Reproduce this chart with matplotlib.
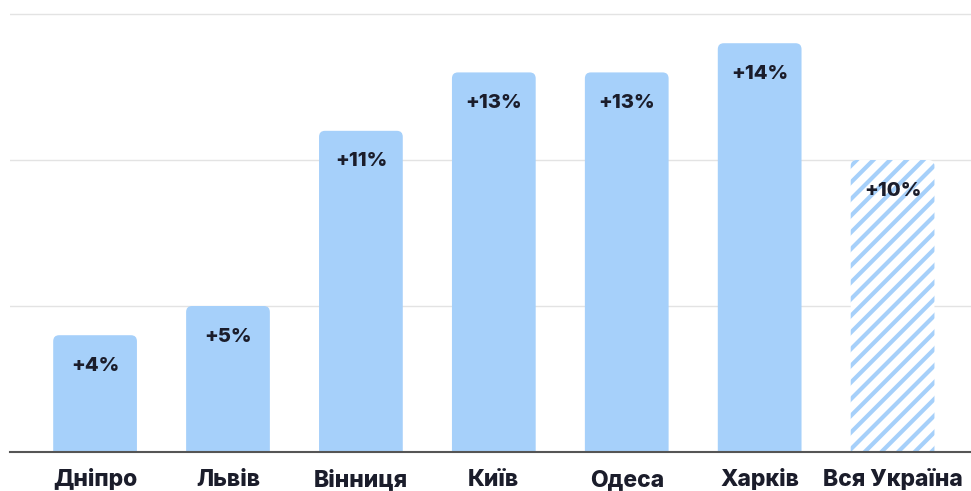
import matplotlib.pyplot as plt
from matplotlib.patches import FancyBboxPatch

# Dati
citta = ['Дніпро', 'Львів', 'Вінниця', 'Київ', 'Одеса', 'Харків', 'Вся Україна']
crescita = [4, 5, 11, 13, 13, 14, 10]
etichette = ['+4%', '+5%', '+11%', '+13%', '+13%', '+14%', '+10%']

plt.rcParams['font.family'] = ['Inter', 'DejaVu Sans']
plt.rcParams['hatch.linewidth'] = 3.0

colore = '#a6d0fa'
testo = '#1b1d2b'

fig = plt.figure(figsize=(9.71, 4.91), dpi=100)
ax = fig.add_axes([10 / 971, 39 / 491, 961 / 971, 452 / 491])

x = list(range(len(citta)))
barre = ax.bar(x, crescita, width=0.63, color='none', edgecolor='none')

# barre arrotondate in alto
for i, b in enumerate(barre):
    r = 0.045
    p = FancyBboxPatch((b.get_x(), -0.5), b.get_width(), b.get_height() + 0.5,
                       boxstyle=f'round,pad=0,rounding_size={r}',
                       mutation_aspect=4.6, linewidth=0, zorder=2)
    if i == len(citta) - 1:
        p.set_facecolor('white')
        p.set_edgecolor(colore)
        p.set_hatch('//')
    else:
        p.set_facecolor(colore)
    p.set_clip_on(True)
    ax.add_patch(p)
    ax.annotate(etichette[i], (b.get_x() + b.get_width() / 2, b.get_height()),
                xytext=(0, -22), textcoords='offset points', ha='center', va='center',
                fontsize=14.5, fontweight='heavy', color=testo, zorder=3)

ax.set_xlim(-0.64, 6.59)
ax.set_ylim(0, 15.48)
ax.set_yticks([5, 10, 15])
ax.yaxis.grid(True, color='#e3e3e3', linewidth=1)
ax.set_axisbelow(True)
ax.tick_params(axis='y', left=False, labelleft=False)
ax.tick_params(axis='x', length=0, pad=12)
ax.set_xticks(x)
ax.set_xticklabels(citta, fontsize=16.5, fontweight='heavy', color=testo)

for s in ['top', 'right', 'left']:
    ax.spines[s].set_visible(False)
ax.spines['bottom'].set_color('#555555')
ax.spines['bottom'].set_linewidth(1.5)
ax.spines['bottom'].set_zorder(4)

fig.savefig('out.png', dpi=100)
